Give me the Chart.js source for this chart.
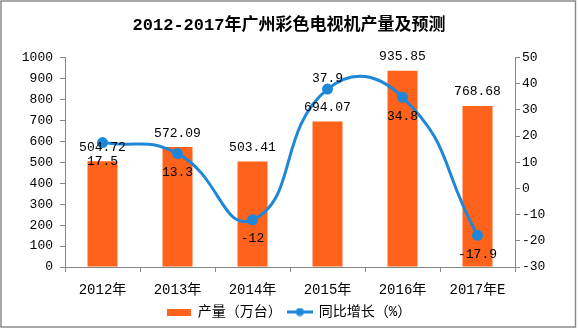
<!DOCTYPE html>
<html>
<head>
<meta charset="utf-8">
<title>2012-2017年广州彩色电视机产量及预测</title>
<script src="https://cdn.jsdelivr.net/npm/chart.js@4/dist/chart.umd.min.js"></script>
<style>
  html, body { margin: 0; padding: 0; background: #fff; }
  #wrap { width: 578px; height: 329px; }
</style>
</head>
<body>
<div id="wrap"><canvas id="tvChart" width="578" height="329"></canvas></div>
<script>
// 广州彩电产量与同比增速
const years = ['2012年', '2013年', '2014年', '2015年', '2016年', '2017年E'];
const output = [504.72, 572.09, 503.41, 694.07, 935.85, 768.68];   // 万台
const growth = [17.5, 13.3, -12, 37.9, 34.8, -17.9];              // %
// 增速标签放在点的上方还是下方
const growthLabelPos = ['below', 'below', 'below', 'above', 'below', 'below'];

const ORANGE = '#FF621A';
const BLUE = '#1F87D8';
const AXIS = '#868686';
const FONT = "'Liberation Mono', 'Noto Sans CJK SC', monospace";

// 图例图标：橙色方块、带圆点的蓝线
function makeIcon(w, h, draw) {
    const c = document.createElement('canvas');
    c.width = w; c.height = h;
    draw(c.getContext('2d'));
    return c;
}
const barIcon = makeIcon(24, 7, g => { g.fillStyle = ORANGE; g.fillRect(0, 0, 24, 7); });
const lineIcon = makeIcon(26, 9, g => {
    g.strokeStyle = BLUE; g.lineWidth = 3;
    g.beginPath(); g.moveTo(0, 4.5); g.lineTo(26, 4.5); g.stroke();
    g.fillStyle = BLUE;
    g.beginPath(); g.arc(13, 4.5, 4, 0, Math.PI * 2); g.fill();
});
const legendIcons = [barIcon, lineIcon];

// 白底加灰色外框
const frame = {
    id: 'frame',
    beforeDraw(chart) {
        const g = chart.ctx;
        g.save();
        g.fillStyle = '#fff';
        g.fillRect(0, 0, chart.width, chart.height);
        g.strokeStyle = '#8a8a8a';
        g.lineWidth = 1.5;
        g.strokeRect(1, 1, 574.5, 326);
        g.restore();
    }
};

// 数值标签
const valueLabels = {
    id: 'valueLabels',
    afterDatasetsDraw(chart) {
        const g = chart.ctx;
        g.save();
        g.font = '13px ' + FONT;
        g.fillStyle = '#000';
        g.textAlign = 'center';
        g.textBaseline = 'middle';
        chart.getDatasetMeta(0).data.forEach((bar, i) => {
            g.fillText(output[i].toFixed(2), bar.x, bar.y - 14);
        });
        chart.getDatasetMeta(1).data.forEach((pt, i) => {
            const dy = growthLabelPos[i] === 'above' ? -11 : 19;
            g.fillText(String(growth[i]), pt.x, pt.y + dy);
        });
        g.restore();
    }
};

new Chart(document.getElementById('tvChart'), {
    type: 'bar',
    data: {
        labels: years,
        datasets: [{
            type: 'bar',
            label: '产量（万台）',
            data: output,
            backgroundColor: ORANGE,
            yAxisID: 'y',
            order: 1,
            barPercentage: 0.4,
            categoryPercentage: 1
        }, {
            type: 'line',
            label: '同比增长（%）',
            data: growth,
            borderColor: BLUE,
            backgroundColor: BLUE,
            borderWidth: 3,
            pointRadius: 4,
            pointHoverRadius: 4,
            tension: 0.5,
            yAxisID: 'y1',
            order: 0
        }]
    },
    options: {
        responsive: false,
        animation: false,
        layout: { padding: { left: 0, right: 0, top: 0, bottom: 0 } },
        plugins: {
            title: {
                display: true,
                text: '2012-2017年广州彩色电视机产量及预测',
                color: '#000',
                font: { family: FONT, size: 17, weight: 'bold' },
                padding: { top: 16, bottom: 21 }
            },
            legend: {
                position: 'bottom',
                labels: {
                    color: '#000',
                    font: { family: FONT, size: 14 },
                    usePointStyle: true,
                    pointStyleWidth: 24,
                    padding: 6,
                    generateLabels(chart) {
                        const items = Chart.defaults.plugins.legend.labels.generateLabels(chart);
                        items.forEach(it => { it.pointStyle = legendIcons[it.datasetIndex]; });
                        return items;
                    },
                    sort: (a, b) => a.datasetIndex - b.datasetIndex
                }
            },
            tooltip: { enabled: false }
        },
        scales: {
            x: {
                grid: { display: true, drawOnChartArea: false, drawTicks: true, tickLength: 5, color: AXIS, offset: true },
                border: { color: AXIS },
                ticks: { color: '#000', font: { family: FONT, size: 14 }, padding: 10, maxRotation: 0 },
                afterFit(s) { s.height = 32; }
            },
            y: {
                position: 'left',
                min: 0, max: 1000,
                ticks: { stepSize: 100, color: '#000', font: { family: FONT, size: 13 }, padding: 7, callback: v => String(v) },
                grid: { display: true, drawOnChartArea: false, tickLength: 5, color: AXIS },
                border: { color: AXIS },
                afterFit(s) { s.width = 65; }
            },
            y1: {
                position: 'right',
                min: -30, max: 50,
                ticks: { stepSize: 10, color: '#000', font: { family: FONT, size: 13 }, padding: 2, callback: v => String(v) },
                grid: { display: true, drawOnChartArea: false, tickLength: 5, color: AXIS },
                border: { color: AXIS },
                afterFit(s) { s.width = 63; }
            }
        }
    },
    plugins: [frame, valueLabels]
});
</script>
</body>
</html>
